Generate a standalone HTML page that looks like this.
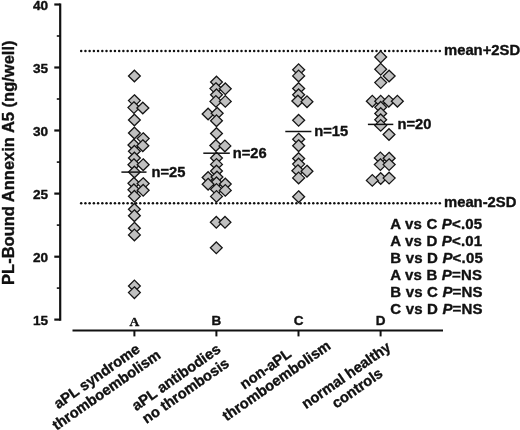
<!DOCTYPE html>
<html><head><meta charset="utf-8"><title>chart</title>
<style>
html,body{margin:0;padding:0;background:#fff;}
body{width:520px;height:430px;overflow:hidden;}
svg{display:block;will-change:transform;}
text{font-family:"Liberation Sans",sans-serif;font-weight:bold;fill:#111;stroke:#111;stroke-width:0.38px;stroke-linejoin:round;}
.serif{font-family:"Liberation Serif",serif;}
</style></head><body>
<svg width="520" height="430" viewBox="0 0 520 430">
<rect width="520" height="430" fill="#fff"/>

<g fill="#111">
<circle cx="81.20" cy="50.9" r="1.25"/>
<circle cx="85.42" cy="50.9" r="1.25"/>
<circle cx="89.64" cy="50.9" r="1.25"/>
<circle cx="93.86" cy="50.9" r="1.25"/>
<circle cx="98.08" cy="50.9" r="1.25"/>
<circle cx="102.30" cy="50.9" r="1.25"/>
<circle cx="106.51" cy="50.9" r="1.25"/>
<circle cx="110.73" cy="50.9" r="1.25"/>
<circle cx="114.95" cy="50.9" r="1.25"/>
<circle cx="119.17" cy="50.9" r="1.25"/>
<circle cx="123.39" cy="50.9" r="1.25"/>
<circle cx="127.61" cy="50.9" r="1.25"/>
<circle cx="131.83" cy="50.9" r="1.25"/>
<circle cx="136.05" cy="50.9" r="1.25"/>
<circle cx="140.27" cy="50.9" r="1.25"/>
<circle cx="144.49" cy="50.9" r="1.25"/>
<circle cx="148.70" cy="50.9" r="1.25"/>
<circle cx="152.92" cy="50.9" r="1.25"/>
<circle cx="157.14" cy="50.9" r="1.25"/>
<circle cx="161.36" cy="50.9" r="1.25"/>
<circle cx="165.58" cy="50.9" r="1.25"/>
<circle cx="169.80" cy="50.9" r="1.25"/>
<circle cx="174.02" cy="50.9" r="1.25"/>
<circle cx="178.24" cy="50.9" r="1.25"/>
<circle cx="182.46" cy="50.9" r="1.25"/>
<circle cx="186.68" cy="50.9" r="1.25"/>
<circle cx="190.89" cy="50.9" r="1.25"/>
<circle cx="195.11" cy="50.9" r="1.25"/>
<circle cx="199.33" cy="50.9" r="1.25"/>
<circle cx="203.55" cy="50.9" r="1.25"/>
<circle cx="207.77" cy="50.9" r="1.25"/>
<circle cx="211.99" cy="50.9" r="1.25"/>
<circle cx="216.21" cy="50.9" r="1.25"/>
<circle cx="220.43" cy="50.9" r="1.25"/>
<circle cx="224.65" cy="50.9" r="1.25"/>
<circle cx="228.87" cy="50.9" r="1.25"/>
<circle cx="233.08" cy="50.9" r="1.25"/>
<circle cx="237.30" cy="50.9" r="1.25"/>
<circle cx="241.52" cy="50.9" r="1.25"/>
<circle cx="245.74" cy="50.9" r="1.25"/>
<circle cx="249.96" cy="50.9" r="1.25"/>
<circle cx="254.18" cy="50.9" r="1.25"/>
<circle cx="258.40" cy="50.9" r="1.25"/>
<circle cx="262.62" cy="50.9" r="1.25"/>
<circle cx="266.84" cy="50.9" r="1.25"/>
<circle cx="271.06" cy="50.9" r="1.25"/>
<circle cx="275.27" cy="50.9" r="1.25"/>
<circle cx="279.49" cy="50.9" r="1.25"/>
<circle cx="283.71" cy="50.9" r="1.25"/>
<circle cx="287.93" cy="50.9" r="1.25"/>
<circle cx="292.15" cy="50.9" r="1.25"/>
<circle cx="296.37" cy="50.9" r="1.25"/>
<circle cx="300.59" cy="50.9" r="1.25"/>
<circle cx="304.81" cy="50.9" r="1.25"/>
<circle cx="309.03" cy="50.9" r="1.25"/>
<circle cx="313.25" cy="50.9" r="1.25"/>
<circle cx="317.46" cy="50.9" r="1.25"/>
<circle cx="321.68" cy="50.9" r="1.25"/>
<circle cx="325.90" cy="50.9" r="1.25"/>
<circle cx="330.12" cy="50.9" r="1.25"/>
<circle cx="334.34" cy="50.9" r="1.25"/>
<circle cx="338.56" cy="50.9" r="1.25"/>
<circle cx="342.78" cy="50.9" r="1.25"/>
<circle cx="347.00" cy="50.9" r="1.25"/>
<circle cx="351.22" cy="50.9" r="1.25"/>
<circle cx="355.44" cy="50.9" r="1.25"/>
<circle cx="359.65" cy="50.9" r="1.25"/>
<circle cx="363.87" cy="50.9" r="1.25"/>
<circle cx="368.09" cy="50.9" r="1.25"/>
<circle cx="372.31" cy="50.9" r="1.25"/>
<circle cx="376.53" cy="50.9" r="1.25"/>
<circle cx="380.75" cy="50.9" r="1.25"/>
<circle cx="384.97" cy="50.9" r="1.25"/>
<circle cx="389.19" cy="50.9" r="1.25"/>
<circle cx="393.41" cy="50.9" r="1.25"/>
<circle cx="397.62" cy="50.9" r="1.25"/>
<circle cx="401.84" cy="50.9" r="1.25"/>
<circle cx="406.06" cy="50.9" r="1.25"/>
<circle cx="410.28" cy="50.9" r="1.25"/>
<circle cx="414.50" cy="50.9" r="1.25"/>
<circle cx="418.72" cy="50.9" r="1.25"/>
<circle cx="422.94" cy="50.9" r="1.25"/>
<circle cx="427.16" cy="50.9" r="1.25"/>
<circle cx="431.38" cy="50.9" r="1.25"/>
<circle cx="435.60" cy="50.9" r="1.25"/>
<circle cx="439.81" cy="50.9" r="1.25"/>
<circle cx="81.20" cy="203.2" r="1.25"/>
<circle cx="85.42" cy="203.2" r="1.25"/>
<circle cx="89.64" cy="203.2" r="1.25"/>
<circle cx="93.86" cy="203.2" r="1.25"/>
<circle cx="98.08" cy="203.2" r="1.25"/>
<circle cx="102.30" cy="203.2" r="1.25"/>
<circle cx="106.51" cy="203.2" r="1.25"/>
<circle cx="110.73" cy="203.2" r="1.25"/>
<circle cx="114.95" cy="203.2" r="1.25"/>
<circle cx="119.17" cy="203.2" r="1.25"/>
<circle cx="123.39" cy="203.2" r="1.25"/>
<circle cx="127.61" cy="203.2" r="1.25"/>
<circle cx="131.83" cy="203.2" r="1.25"/>
<circle cx="136.05" cy="203.2" r="1.25"/>
<circle cx="140.27" cy="203.2" r="1.25"/>
<circle cx="144.49" cy="203.2" r="1.25"/>
<circle cx="148.70" cy="203.2" r="1.25"/>
<circle cx="152.92" cy="203.2" r="1.25"/>
<circle cx="157.14" cy="203.2" r="1.25"/>
<circle cx="161.36" cy="203.2" r="1.25"/>
<circle cx="165.58" cy="203.2" r="1.25"/>
<circle cx="169.80" cy="203.2" r="1.25"/>
<circle cx="174.02" cy="203.2" r="1.25"/>
<circle cx="178.24" cy="203.2" r="1.25"/>
<circle cx="182.46" cy="203.2" r="1.25"/>
<circle cx="186.68" cy="203.2" r="1.25"/>
<circle cx="190.89" cy="203.2" r="1.25"/>
<circle cx="195.11" cy="203.2" r="1.25"/>
<circle cx="199.33" cy="203.2" r="1.25"/>
<circle cx="203.55" cy="203.2" r="1.25"/>
<circle cx="207.77" cy="203.2" r="1.25"/>
<circle cx="211.99" cy="203.2" r="1.25"/>
<circle cx="216.21" cy="203.2" r="1.25"/>
<circle cx="220.43" cy="203.2" r="1.25"/>
<circle cx="224.65" cy="203.2" r="1.25"/>
<circle cx="228.87" cy="203.2" r="1.25"/>
<circle cx="233.08" cy="203.2" r="1.25"/>
<circle cx="237.30" cy="203.2" r="1.25"/>
<circle cx="241.52" cy="203.2" r="1.25"/>
<circle cx="245.74" cy="203.2" r="1.25"/>
<circle cx="249.96" cy="203.2" r="1.25"/>
<circle cx="254.18" cy="203.2" r="1.25"/>
<circle cx="258.40" cy="203.2" r="1.25"/>
<circle cx="262.62" cy="203.2" r="1.25"/>
<circle cx="266.84" cy="203.2" r="1.25"/>
<circle cx="271.06" cy="203.2" r="1.25"/>
<circle cx="275.27" cy="203.2" r="1.25"/>
<circle cx="279.49" cy="203.2" r="1.25"/>
<circle cx="283.71" cy="203.2" r="1.25"/>
<circle cx="287.93" cy="203.2" r="1.25"/>
<circle cx="292.15" cy="203.2" r="1.25"/>
<circle cx="296.37" cy="203.2" r="1.25"/>
<circle cx="300.59" cy="203.2" r="1.25"/>
<circle cx="304.81" cy="203.2" r="1.25"/>
<circle cx="309.03" cy="203.2" r="1.25"/>
<circle cx="313.25" cy="203.2" r="1.25"/>
<circle cx="317.46" cy="203.2" r="1.25"/>
<circle cx="321.68" cy="203.2" r="1.25"/>
<circle cx="325.90" cy="203.2" r="1.25"/>
<circle cx="330.12" cy="203.2" r="1.25"/>
<circle cx="334.34" cy="203.2" r="1.25"/>
<circle cx="338.56" cy="203.2" r="1.25"/>
<circle cx="342.78" cy="203.2" r="1.25"/>
<circle cx="347.00" cy="203.2" r="1.25"/>
<circle cx="351.22" cy="203.2" r="1.25"/>
<circle cx="355.44" cy="203.2" r="1.25"/>
<circle cx="359.65" cy="203.2" r="1.25"/>
<circle cx="363.87" cy="203.2" r="1.25"/>
<circle cx="368.09" cy="203.2" r="1.25"/>
<circle cx="372.31" cy="203.2" r="1.25"/>
<circle cx="376.53" cy="203.2" r="1.25"/>
<circle cx="380.75" cy="203.2" r="1.25"/>
<circle cx="384.97" cy="203.2" r="1.25"/>
<circle cx="389.19" cy="203.2" r="1.25"/>
<circle cx="393.41" cy="203.2" r="1.25"/>
<circle cx="397.62" cy="203.2" r="1.25"/>
<circle cx="401.84" cy="203.2" r="1.25"/>
<circle cx="406.06" cy="203.2" r="1.25"/>
<circle cx="410.28" cy="203.2" r="1.25"/>
<circle cx="414.50" cy="203.2" r="1.25"/>
<circle cx="418.72" cy="203.2" r="1.25"/>
<circle cx="422.94" cy="203.2" r="1.25"/>
<circle cx="427.16" cy="203.2" r="1.25"/>
<circle cx="431.38" cy="203.2" r="1.25"/>
<circle cx="435.60" cy="203.2" r="1.25"/>
<circle cx="439.81" cy="203.2" r="1.25"/>
</g>
<g fill="#c0c0c0" stroke="#151515" stroke-width="1.3" stroke-linejoin="miter">
<path d="M134.4 70.2L140.3 76.0L134.4 81.8L128.5 76.0Z"/>
<path d="M134.4 94.8L140.3 100.6L134.4 106.4L128.5 100.6Z"/>
<path d="M133.9 101.8L139.8 107.6L133.9 113.4L128.0 107.6Z"/>
<path d="M142.8 102.2L148.8 108.0L142.8 113.8L136.9 108.0Z"/>
<path d="M134.4 114.2L140.3 120.0L134.4 125.8L128.5 120.0Z"/>
<path d="M134.4 127.2L140.3 133.0L134.4 138.8L128.5 133.0Z"/>
<path d="M143.2 132.8L149.1 138.6L143.2 144.4L137.2 138.6Z"/>
<path d="M133.9 139.2L139.8 145.0L133.9 150.8L128.0 145.0Z"/>
<path d="M142.8 139.8L148.8 145.7L142.8 151.5L136.9 145.7Z"/>
<path d="M134.4 145.5L140.3 151.3L134.4 157.2L128.5 151.3Z"/>
<path d="M134.4 152.2L140.3 158.0L134.4 163.8L128.5 158.0Z"/>
<path d="M133.9 158.8L139.8 164.7L133.9 170.5L128.0 164.7Z"/>
<path d="M143.2 158.8L149.1 164.7L143.2 170.5L137.2 164.7Z"/>
<path d="M134.4 166.2L140.3 172.0L134.4 177.8L128.5 172.0Z"/>
<path d="M133.9 177.5L139.8 183.3L133.9 189.2L128.0 183.3Z"/>
<path d="M143.2 177.8L149.1 183.6L143.2 189.4L137.2 183.6Z"/>
<path d="M133.9 184.0L139.8 189.8L133.9 195.7L128.0 189.8Z"/>
<path d="M143.2 184.5L149.1 190.3L143.2 196.2L137.2 190.3Z"/>
<path d="M134.4 190.5L140.3 196.3L134.4 202.2L128.5 196.3Z"/>
<path d="M134.4 203.5L140.3 209.3L134.4 215.2L128.5 209.3Z"/>
<path d="M134.4 209.8L140.3 215.7L134.4 221.5L128.5 215.7Z"/>
<path d="M134.4 222.3L140.3 228.2L134.4 234.0L128.5 228.2Z"/>
<path d="M134.4 229.1L140.3 234.9L134.4 240.8L128.5 234.9Z"/>
<path d="M134.4 280.1L140.3 286.0L134.4 291.9L128.5 286.0Z"/>
<path d="M134.4 286.8L140.3 292.6L134.4 298.5L128.5 292.6Z"/>
<path d="M216.5 76.2L222.4 82.0L216.5 87.8L210.6 82.0Z"/>
<path d="M215.9 82.8L221.8 88.6L215.9 94.4L210.0 88.6Z"/>
<path d="M225.3 83.0L231.2 88.8L225.3 94.6L219.4 88.8Z"/>
<path d="M216.5 89.0L222.4 94.8L216.5 100.6L210.6 94.8Z"/>
<path d="M215.9 95.6L221.8 101.4L215.9 107.2L210.0 101.4Z"/>
<path d="M225.3 95.6L231.2 101.4L225.3 107.2L219.4 101.4Z"/>
<path d="M208.1 108.2L214.0 114.0L208.1 119.8L202.2 114.0Z"/>
<path d="M217.2 107.5L223.1 113.3L217.2 119.1L211.2 113.3Z"/>
<path d="M216.5 114.9L222.4 120.7L216.5 126.5L210.6 120.7Z"/>
<path d="M216.5 127.7L222.4 133.5L216.5 139.3L210.6 133.5Z"/>
<path d="M215.8 139.7L221.8 145.5L215.8 151.3L209.9 145.5Z"/>
<path d="M224.9 140.1L230.8 145.9L224.9 151.8L219.0 145.9Z"/>
<path d="M216.5 152.2L222.4 158.0L216.5 163.8L210.6 158.0Z"/>
<path d="M216.5 158.6L222.4 164.4L216.5 170.2L210.6 164.4Z"/>
<path d="M216.5 165.2L222.4 171.0L216.5 176.8L210.6 171.0Z"/>
<path d="M208.1 171.7L214.0 177.5L208.1 183.3L202.2 177.5Z"/>
<path d="M217.0 171.2L222.9 177.0L217.0 182.8L211.1 177.0Z"/>
<path d="M216.5 177.0L222.4 182.8L216.5 188.7L210.6 182.8Z"/>
<path d="M208.1 178.3L214.0 184.2L208.1 190.0L202.2 184.2Z"/>
<path d="M225.3 178.2L231.2 184.0L225.3 189.8L219.4 184.0Z"/>
<path d="M216.5 183.6L222.4 189.4L216.5 195.2L210.6 189.4Z"/>
<path d="M225.3 184.6L231.2 190.4L225.3 196.2L219.4 190.4Z"/>
<path d="M216.5 190.6L222.4 196.4L216.5 202.2L210.6 196.4Z"/>
<path d="M216.3 216.5L222.2 222.3L216.3 228.2L210.4 222.3Z"/>
<path d="M225.0 216.5L230.9 222.3L225.0 228.2L219.1 222.3Z"/>
<path d="M216.3 242.0L222.2 247.8L216.3 253.7L210.4 247.8Z"/>
<path d="M298.6 63.9L304.6 69.7L298.6 75.5L292.7 69.7Z"/>
<path d="M298.6 70.1L304.6 75.9L298.6 81.8L292.7 75.9Z"/>
<path d="M298.6 82.7L304.6 88.5L298.6 94.3L292.7 88.5Z"/>
<path d="M298.6 89.0L304.6 94.8L298.6 100.6L292.7 94.8Z"/>
<path d="M297.9 95.2L303.8 101.0L297.9 106.8L291.9 101.0Z"/>
<path d="M307.0 95.9L312.9 101.7L307.0 107.5L301.1 101.7Z"/>
<path d="M298.6 114.5L304.6 120.3L298.6 126.1L292.7 120.3Z"/>
<path d="M298.6 133.3L304.6 139.2L298.6 145.0L292.7 139.2Z"/>
<path d="M298.6 139.8L304.6 145.7L298.6 151.5L292.7 145.7Z"/>
<path d="M298.6 152.7L304.6 158.5L298.6 164.3L292.7 158.5Z"/>
<path d="M298.6 158.2L304.6 164.1L298.6 169.9L292.7 164.1Z"/>
<path d="M297.9 164.8L303.8 170.7L297.9 176.5L291.9 170.7Z"/>
<path d="M307.0 165.3L312.9 171.2L307.0 177.0L301.1 171.2Z"/>
<path d="M298.6 172.1L304.6 177.9L298.6 183.8L292.7 177.9Z"/>
<path d="M298.6 190.8L304.6 196.7L298.6 202.5L292.7 196.7Z"/>
<path d="M380.7 51.1L386.6 57.0L380.7 62.9L374.8 57.0Z"/>
<path d="M380.7 63.4L386.6 69.3L380.7 75.1L374.8 69.3Z"/>
<path d="M389.1 70.2L395.1 76.0L389.1 81.8L383.2 76.0Z"/>
<path d="M380.7 76.8L386.6 82.6L380.7 88.4L374.8 82.6Z"/>
<path d="M372.3 95.4L378.2 101.2L372.3 107.0L366.4 101.2Z"/>
<path d="M380.7 95.4L386.6 101.2L380.7 107.0L374.8 101.2Z"/>
<path d="M388.8 95.4L394.8 101.2L388.8 107.0L382.9 101.2Z"/>
<path d="M397.4 95.4L403.3 101.2L397.4 107.0L391.4 101.2Z"/>
<path d="M380.7 101.5L386.6 107.3L380.7 113.1L374.8 107.3Z"/>
<path d="M380.7 107.7L386.6 113.5L380.7 119.3L374.8 113.5Z"/>
<path d="M380.7 114.0L386.6 119.8L380.7 125.6L374.8 119.8Z"/>
<path d="M380.7 119.6L386.6 125.4L380.7 131.2L374.8 125.4Z"/>
<path d="M389.0 128.7L394.9 134.5L389.0 140.3L383.1 134.5Z"/>
<path d="M380.4 152.1L386.3 157.9L380.4 163.8L374.4 157.9Z"/>
<path d="M389.1 152.3L395.1 158.2L389.1 164.0L383.2 158.2Z"/>
<path d="M380.4 158.8L386.3 164.6L380.4 170.4L374.4 164.6Z"/>
<path d="M389.1 158.8L395.1 164.6L389.1 170.4L383.2 164.6Z"/>
<path d="M380.7 172.7L386.6 178.5L380.7 184.3L374.8 178.5Z"/>
<path d="M389.1 172.2L395.1 178.1L389.1 183.9L383.2 178.1Z"/>
<path d="M372.3 174.6L378.2 180.4L372.3 186.2L366.4 180.4Z"/>
</g>
<g stroke="#111" stroke-width="1.5" fill="none">
<path d="M121.4 172.1H146.5"/>
<path d="M203.3 153.2H229.8"/>
<path d="M285.3 131.5H311.4"/>
<path d="M367.9 124.4H393.3"/>
</g>
<g stroke="#111" fill="none">
<path d="M60.2 3.4V320.7" stroke-width="2.2"/>
<path d="M72.5 330.5H443" stroke-width="2.1"/>
<path d="M54.3 4.5H60.3" stroke-width="2.2"/>
<path d="M54.3 67.5H60.3" stroke-width="2.2"/>
<path d="M54.3 130.5H60.3" stroke-width="2.2"/>
<path d="M54.3 193.6H60.3" stroke-width="2.2"/>
<path d="M54.3 256.7H60.3" stroke-width="2.2"/>
<path d="M54.3 319.6H60.3" stroke-width="2.2"/>
<path d="M56.8 36.0H60.3" stroke-width="1.6"/>
<path d="M56.8 99.0H60.3" stroke-width="1.6"/>
<path d="M56.8 162.1H60.3" stroke-width="1.6"/>
<path d="M56.8 225.1H60.3" stroke-width="1.6"/>
<path d="M56.8 288.1H60.3" stroke-width="1.6"/>
<path d="M134.4 330.5V336.4" stroke-width="2"/>
<path d="M216.4 330.5V336.4" stroke-width="2"/>
<path d="M298.5 330.5V336.4" stroke-width="2"/>
<path d="M380.6 330.5V336.4" stroke-width="2"/>
</g>
<text x="48" y="9.5" font-size="13.6" text-anchor="end">40</text>
<text x="48" y="72.5" font-size="13.6" text-anchor="end">35</text>
<text x="48" y="135.5" font-size="13.6" text-anchor="end">30</text>
<text x="48" y="198.6" font-size="13.6" text-anchor="end">25</text>
<text x="48" y="261.7" font-size="13.6" text-anchor="end">20</text>
<text x="48" y="324.6" font-size="13.6" text-anchor="end">15</text>
<text transform="translate(13.9 162.7) rotate(-90)" font-size="16.5" text-anchor="middle">PL-Bound Annexin A5 (ng/well)</text>
<text x="151.5" y="177.3" font-size="14.7">n=25</text>
<text x="232.8" y="157.6" font-size="14.7">n=26</text>
<text x="314.2" y="136.3" font-size="14.7">n=15</text>
<text x="397.5" y="129.2" font-size="14.7">n=20</text>
<text x="444.0" y="54.5" font-size="14.8">mean+2SD</text>
<text x="444.0" y="207.0" font-size="14.8">mean-2SD</text>
<text x="390.3" y="229.1" font-size="15" letter-spacing="0.18" xml:space="preserve">A vs C <tspan font-style="italic">P</tspan>&lt;.05</text>
<text x="390.3" y="246.1" font-size="15" letter-spacing="0.18" xml:space="preserve">A vs D <tspan font-style="italic">P</tspan>&lt;.01</text>
<text x="390.3" y="263.1" font-size="15" letter-spacing="0.18" xml:space="preserve">B vs D <tspan font-style="italic">P</tspan>&lt;.05</text>
<text x="390.3" y="280.1" font-size="15" letter-spacing="0.18" xml:space="preserve">A vs B <tspan font-style="italic">P</tspan>=NS</text>
<text x="390.3" y="297.1" font-size="15" letter-spacing="0.18" xml:space="preserve">B vs C <tspan font-style="italic">P</tspan>=NS</text>
<text x="390.3" y="314.1" font-size="15" letter-spacing="0.18" xml:space="preserve">C vs D <tspan font-style="italic">P</tspan>=NS</text>
<text class="serif" x="134.4" y="325.6" font-size="13.5" text-anchor="middle" stroke-width="0.2">A</text>
<text x="216.4" y="325.4" font-size="13.5" text-anchor="middle">B</text>
<text x="298.5" y="325.4" font-size="13.5" text-anchor="middle">C</text>
<text x="380.6" y="325.4" font-size="13.5" text-anchor="middle">D</text>
<text transform="translate(99.6 380.2) rotate(-35)" font-size="14.7" text-anchor="middle">aPL syndrome</text>
<text transform="translate(109.2 393.9) rotate(-35)" font-size="14.7" text-anchor="middle">thromboembolism</text>
<text transform="translate(178.9 381.3) rotate(-35)" font-size="14.7" text-anchor="middle">aPL antibodies</text>
<text transform="translate(188.4 394.8) rotate(-35)" font-size="14.7" text-anchor="middle">no thrombosis</text>
<text transform="translate(268.4 372.8) rotate(-35)" font-size="14.7" text-anchor="middle">non-aPL</text>
<text transform="translate(279.3 384.65) rotate(-35)" font-size="14.7" text-anchor="middle">thromboembolism</text>
<text transform="translate(348.9 379.4) rotate(-35)" font-size="14.7" text-anchor="middle">normal healthy</text>
<text transform="translate(360.0 392.1) rotate(-35)" font-size="14.7" text-anchor="middle">controls</text>
</svg></body></html>
